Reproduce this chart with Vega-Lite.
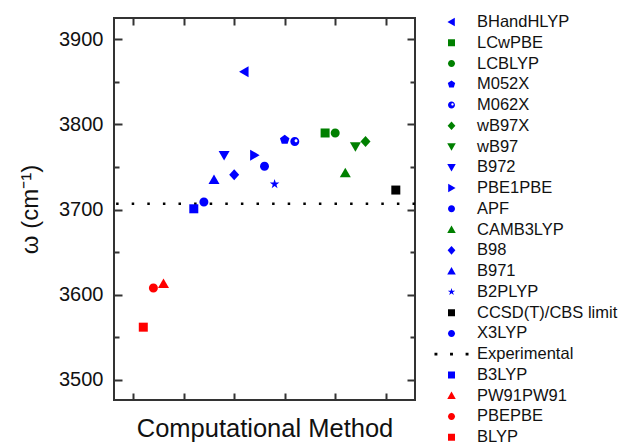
{
  "$schema": "https://vega.github.io/schema/vega-lite/v6.json",
  "autosize": {"type": "none"},
  "padding": {"left": 114, "top": 18, "right": 206, "bottom": 44},
  "width": 301,
  "height": 382,
  "background": "white",
  "config": {
    "view": {"stroke": "#333", "strokeWidth": 2},
    "font": "Liberation Sans",
    "axis": {"domain": false, "tickColor": "#333", "tickWidth": 2, "grid": false, "labelFont": "Liberation Sans", "titleFont": "Liberation Sans", "labelColor": "#111", "titleColor": "#111", "titleFontWeight": "normal"}
  },
  "datasets": {
    "pts": [
      {"method": "BHandHLYP", "x": 3.2, "omega": 3862},
      {"method": "LCwPBE", "x": 4.8, "omega": 3790},
      {"method": "LCBLYP", "x": 5.0, "omega": 3790},
      {"method": "M052X", "x": 4.0, "omega": 3782},
      {"method": "M062X", "x": 4.2, "omega": 3780},
      {"method": "wB97X", "x": 5.6, "omega": 3780},
      {"method": "wB97", "x": 5.4, "omega": 3774},
      {"method": "B972", "x": 2.8, "omega": 3764},
      {"method": "PBE1PBE", "x": 3.4, "omega": 3764},
      {"method": "APF", "x": 3.6, "omega": 3751},
      {"method": "CAMB3LYP", "x": 5.2, "omega": 3743},
      {"method": "B98", "x": 3.0, "omega": 3741},
      {"method": "B971", "x": 2.6, "omega": 3735},
      {"method": "B2PLYP", "x": 3.8, "omega": 3730},
      {"method": "CCSD(T)/CBS limit", "x": 6.2, "omega": 3723},
      {"method": "X3LYP", "x": 2.4, "omega": 3709},
      {"method": "B3LYP", "x": 2.2, "omega": 3701},
      {"method": "PW91PW91", "x": 1.6, "omega": 3613},
      {"method": "PBEPBE", "x": 1.4, "omega": 3608},
      {"method": "BLYP", "x": 1.2, "omega": 3562}
    ],
    "exp": [{"method": "Experimental", "omega": 3707}]
  },
  "layer": [
    {
      "data": {"name": "exp"},
      "mark": {"type": "rule", "color": "black", "strokeWidth": 2.5, "strokeDash": [2.5, 13.1], "strokeCap": "butt"},
      "encoding": {
        "y": {"field": "omega", "type": "quantitative", "scale": {"domain": [3476.5, 3925], "nice": false, "zero": false}, "axis": null}
      }
    },
    {
      "data": {"name": "pts"},
      "mark": {"type": "point", "filled": true, "opacity": 1, "size": 2500, "strokeWidth": 0},
      "encoding": {
        "x": {"field": "x", "type": "quantitative", "scale": {"domain": [0.62, 6.58], "nice": false, "zero": false},
          "axis": {"orient": "bottom", "offset": -7, "values": [1, 2, 3, 4, 5, 6], "labels": false, "tickSize": 7, "title": "Computational Method", "titleFontSize": 25.5, "titlePadding": 15.5}},
        "y": {"field": "omega", "type": "quantitative", "scale": {"domain": [3476.5, 3925], "nice": false, "zero": false},
          "axis": {"orient": "left", "offset": -8, "values": [3500, 3550, 3600, 3650, 3700, 3750, 3800, 3850, 3900], "format": "d", "labelExpr": "datum.value % 100 === 0 ? datum.label : ''", "labelFontSize": 20, "labelPadding": 11, "tickSize": 8, "tickDash": {"condition": {"test": "datum.value % 100 === 0", "value": [8, 0]}, "value": [0, 3, 5, 10]}, "title": "ω (cm⁻¹)", "titleFontSize": 24, "titlePadding": 16}},
        "color": {"field": "method", "type": "nominal",
          "scale": {
            "domain": ["BHandHLYP", "LCwPBE", "LCBLYP", "M052X", "M062X", "wB97X", "wB97", "B972", "PBE1PBE", "APF", "CAMB3LYP", "B98", "B971", "B2PLYP", "CCSD(T)/CBS limit", "X3LYP", "Experimental", "B3LYP", "PW91PW91", "PBEPBE", "BLYP"],
            "range": ["#0000FF", "#008000", "#008000", "#0000FF", "#0000FF", "#008000", "#008000", "#0000FF", "#0000FF", "#0000FF", "#008000", "#0000FF", "#0000FF", "#0000FF", "#000000", "#0000FF", "#000000", "#0000FF", "#FF0000", "#FF0000", "#FF0000"]
          },
          "legend": {"orient": "none", "legendX": 318, "legendY": -4.25, "title": null, "padding": 0, "symbolSize": 1512, "clipHeight": 16.5, "labelFontSize": 16.5, "labelFont": "Liberation Sans", "labelColor": "#111", "labelOffset": 6, "rowPadding": 3.76, "symbolStrokeWidth": 0}
        },
        "shape": {"field": "method", "type": "nominal",
          "scale": {
            "domain": ["BHandHLYP", "LCwPBE", "LCBLYP", "M052X", "M062X", "wB97X", "wB97", "B972", "PBE1PBE", "APF", "CAMB3LYP", "B98", "B971", "B2PLYP", "CCSD(T)/CBS limit", "X3LYP", "Experimental", "B3LYP", "PW91PW91", "PBEPBE", "BLYP"],
            "range": [
              "M-0.21,0L0.17,-0.22L0.17,0.22Z",
              "M-0.18,-0.18h0.36v0.36h-0.36Z",
              "M0.18,0A0.18,0.18 0 1,1 -0.18,0A0.18,0.18 0 1,1 0.18,0Z",
              "M0,-0.2L0.19,-0.062L0.118,0.162L-0.118,0.162L-0.19,-0.062Z",
              "M0.18,0A0.18,0.18 0 1,0 -0.18,0A0.18,0.18 0 1,0 0.18,0Z M0.11,-0.03A0.06,0.06 0 1,1 -0.01,-0.03A0.06,0.06 0 1,1 0.11,-0.03Z",
              "M0,-0.22L0.2,0L0,0.22L-0.2,0Z",
              "M0,0.21L0.22,-0.17L-0.22,-0.17Z",
              "M0,0.21L0.22,-0.17L-0.22,-0.17Z",
              "M0.21,0L-0.17,-0.22L-0.17,0.22Z",
              "M0.18,0A0.18,0.18 0 1,1 -0.18,0A0.18,0.18 0 1,1 0.18,0Z",
              "M0,-0.21L0.22,0.17L-0.22,0.17Z",
              "M0,-0.22L0.2,0L0,0.22L-0.2,0Z",
              "M0,-0.21L0.22,0.17L-0.22,0.17Z",
              "M0,-0.2L0.0449,-0.0618L0.19,-0.062L0.0727,0.0236L0.118,0.162L0,0.0764L-0.118,0.162L-0.0727,0.0236L-0.19,-0.062L-0.0449,-0.0618Z",
              "M-0.18,-0.18h0.36v0.36h-0.36Z",
              "M0.18,0A0.18,0.18 0 1,1 -0.18,0A0.18,0.18 0 1,1 0.18,0Z",
              "M-0.875,-0.07h0.15v0.14h-0.15Z M-0.075,-0.07h0.15v0.14h-0.15Z M0.725,-0.07h0.15v0.14h-0.15Z",
              "M-0.18,-0.18h0.36v0.36h-0.36Z",
              "M0,-0.21L0.22,0.17L-0.22,0.17Z",
              "M0.18,0A0.18,0.18 0 1,1 -0.18,0A0.18,0.18 0 1,1 0.18,0Z",
              "M-0.18,-0.18h0.36v0.36h-0.36Z"
            ]
          }
        }
      }
    },
    {
      "data": {"name": "pts"},
      "mark": {"type": "point", "opacity": 0},
      "encoding": {
        "x": {"field": "x", "type": "quantitative", "scale": {"domain": [0.62, 6.58], "nice": false, "zero": false},
          "axis": {"orient": "top", "offset": -7, "values": [1, 2, 3, 4, 5, 6], "labels": false, "tickSize": 7, "title": null}},
        "y": {"field": "omega", "type": "quantitative", "scale": {"domain": [3476.5, 3925], "nice": false, "zero": false},
          "axis": {"orient": "right", "offset": -8, "values": [3500, 3550, 3600, 3650, 3700, 3750, 3800, 3850, 3900], "labels": false, "tickSize": 8, "tickDash": {"condition": {"test": "datum.value % 100 === 0", "value": [8, 0]}, "value": [0, 3, 5, 10]}, "title": null}}
      }
    }
  ],
  "resolve": {"axis": {"x": "independent", "y": "independent"}}
}
